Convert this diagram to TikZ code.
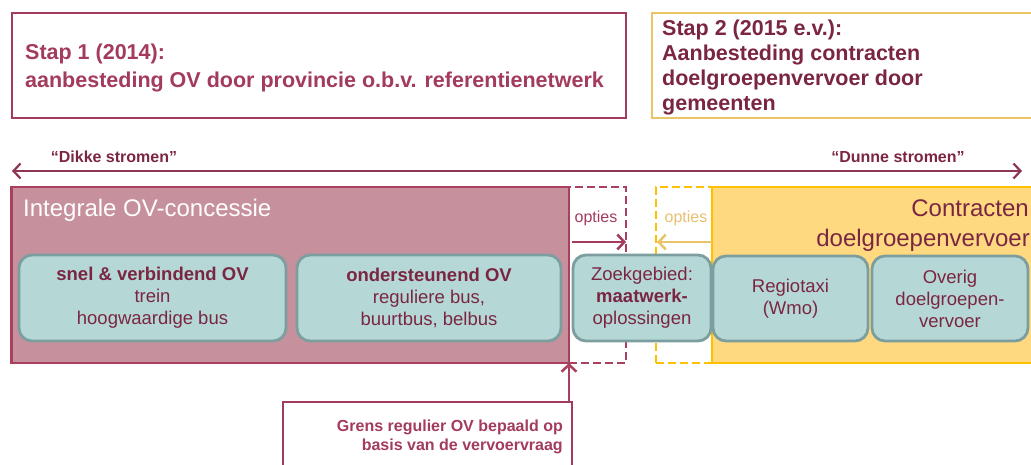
\documentclass[tikz,border=0pt]{standalone}
\usepackage{fontspec}
\setmainfont{Liberation Sans}
\usetikzlibrary{arrows.meta}
\definecolor{maroon}{HTML}{A33B5C}
\definecolor{darkmaroon}{HTML}{7A2643}
\definecolor{pinkfill}{HTML}{C6909D}
\definecolor{pinkline}{HTML}{A8405E}
\definecolor{tealfill}{HTML}{B5D8D6}
\definecolor{tealline}{HTML}{7D9E9E}
\definecolor{yelfill}{HTML}{FFD97F}
\definecolor{yelline}{HTML}{FFC000}
\definecolor{goldline}{HTML}{EBC46A}
\definecolor{goldtext}{HTML}{E8C070}
\definecolor{arrowmaroon}{HTML}{8E3553}
\begin{document}
\begin{tikzpicture}[x=1pt,y=-1pt,
  box/.style={rectangle,inner sep=0pt,outer sep=0pt},
  stapbox/.style={box,draw,line width=2.8pt,fill=white},
  tealbox/.style={box,draw=tealline,fill=tealfill,line width=2.8pt,rounded corners=13pt,
    text=darkmaroon,align=center,font=\fontsize{18.5}{22}\selectfont},
  stapA/.style={anchor=base west,inner sep=0pt,text=maroon,font=\bfseries\fontsize{21.5}{25}\selectfont},
  stapB/.style={anchor=base west,inner sep=0pt,text=darkmaroon,font=\bfseries\fontsize{21.5}{25}\selectfont},
  bigtitle/.style={inner sep=0pt,font=\fontsize{24}{28}\selectfont},
  stroom/.style={anchor=base,inner sep=0pt,text=darkmaroon,font=\bfseries\fontsize{16}{19}\selectfont},
  optlabel/.style={anchor=base,inner sep=0pt,font=\fontsize{16}{19}\selectfont},
  barb/.style={-{Straight Barb[length=7pt,width=15pt]},line width=2.5pt},
  dbarb/.style={{Straight Barb[length=7pt,width=15pt]}-{Straight Barb[length=7pt,width=15pt]},line width=2.2pt}
]
\useasboundingbox (0,0) rectangle (1031,465);
\clip (0,0) rectangle (1031,465);

% Stap boxes
\node[stapbox,draw=maroon,minimum width=614pt,minimum height=105pt] (stap1) at (319,65.5) {};
\node[stapbox,draw=goldline,minimum width=393pt,minimum height=105pt] (stap2) at (848.5,65.5) {};
\node[stapA] (s1a) at (25,60) {Stap 1 (2014):};
\node[stapA] (s1b) at (25,88) {aanbesteding OV door provincie o.b.v. referentienetwerk};
\node[stapB] (s2a) at (662,36) {Stap 2 (2015 e.v.):};
\node[stapB] (s2b) at (662,61) {Aanbesteding contracten};
\node[stapB] (s2c) at (662,86) {doelgroepenvervoer door};
\node[stapB] (s2d) at (662,111) {gemeenten};

% stromen
\coordinate (dl) at (12,171);
\coordinate (dr) at (1022,171);
\draw[dbarb,arrowmaroon] (dl) -- (dr);
\node[stroom] (dikke) at (114,163) {“Dikke stromen”};
\node[stroom] (dunne) at (898,163) {“Dunne stromen”};

% option boxes (dashed)
\node[box,draw=pinkline,dash pattern=on 8pt off 4pt,line width=2.8pt,minimum width=57pt,minimum height=176pt] (optM) at (597.5,275) {};
\node[box,draw=yelline,dash pattern=on 8pt off 4pt,line width=2.8pt,minimum width=56pt,minimum height=176pt] (optY) at (684,275) {};

% main areas
\node[box,draw=pinkline,fill=pinkfill,line width=2.8pt,minimum width=557.5pt,minimum height=176pt] (pink) at (290.25,275) {};
\node[box,draw=yelline,fill=yelfill,line width=2.8pt,minimum width=333pt,minimum height=176pt] (contr) at (878.5,275) {};

\node[bigtitle,anchor=base west,text=white] (ttl) at (23,217) {Integrale OV-concessie};
\node[bigtitle,anchor=base east,text=darkmaroon] (ct1) at (1029,217) {Contracten};
\node[bigtitle,anchor=base east,text=darkmaroon] (ct2) at (1030,247) {doelgroepenvervoer};

\node[optlabel,text=maroon] (optMl) at (596,223) {opties};
\node[optlabel,text=goldtext] (optYl) at (686,223) {opties};
\coordinate (oy) at (0,242);
\draw[barb,maroon] ([xshift=3pt]pink.east |- oy) -- (optM.east |- oy);
\draw[barb,goldline] (contr.west |- oy) -- ([xshift=1pt]optY.west |- oy);

% teal boxes
\node[tealbox,minimum width=267pt,minimum height=86pt] (b1) at (152.5,298) {\textbf{snel \& verbindend OV}\\trein\\hoogwaardige bus};
\node[tealbox,minimum width=264pt,minimum height=86pt] (b2) at (429,298) {\textbf{ondersteunend OV}\\reguliere bus,\\buurtbus, belbus};
\node[tealbox,minimum width=138pt,minimum height=86pt] (b3) at (642,298) {Zoekgebied:\\\textbf{maatwerk-}\\oplossingen};
\node[tealbox,minimum width=155pt,minimum height=85pt] (b4) at (790.5,298.5) {Regiotaxi\\(Wmo)};
\node[tealbox,minimum width=156pt,minimum height=85pt] (b5) at (950,298.5) {Overig\\doelgroepen-\\vervoer};

% grens box
\node[stapbox,draw=maroon,line width=2.5pt,minimum width=289pt,minimum height=80pt] (grens) at (427.5,442) {};
\node[anchor=base east,inner sep=0pt,align=right,text=maroon,font=\bfseries\fontsize{16}{19}\selectfont] (grenstxt) at (563,450) {Grens regulier OV bepaald op\\basis van de vervoervraag};
\draw[barb,pinkline] (grens.north -| pink.south east) -- (pink.south east);
\end{tikzpicture}
\end{document}
